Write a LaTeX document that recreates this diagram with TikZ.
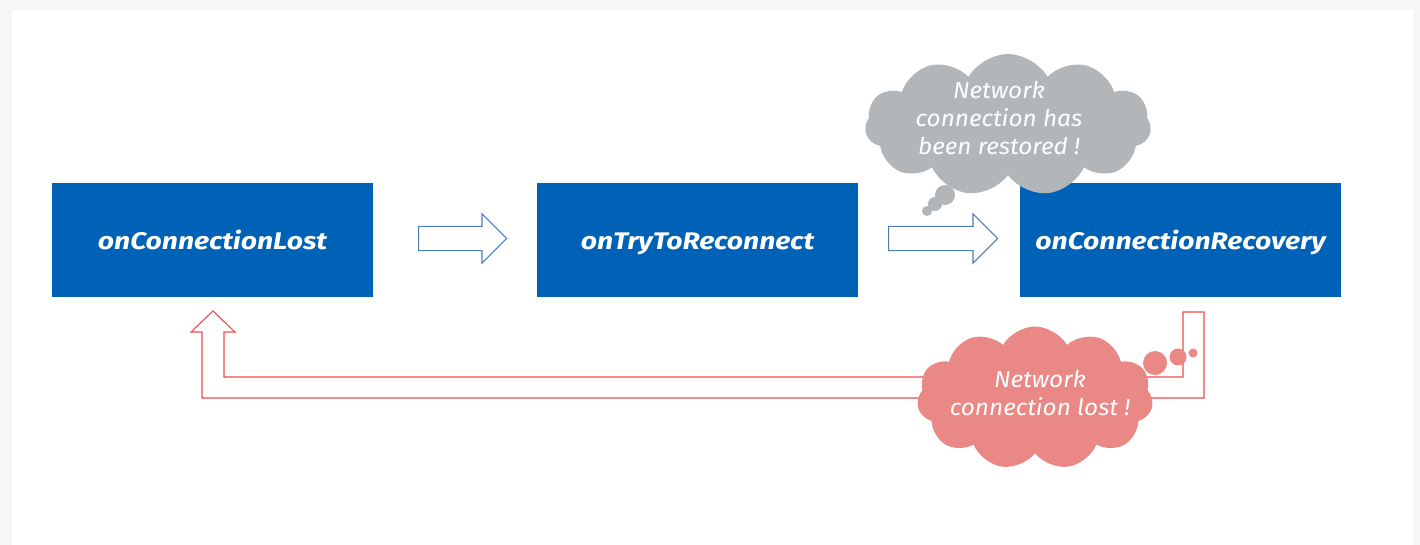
\documentclass[tikz,border=0pt]{standalone}
\usepackage{fontspec}
\setmainfont{Fira Sans}
\newfontfamily\widefont[FakeStretch=1.18]{Fira Sans}
\newfontfamily\cloudfont[FakeStretch=1.06]{Fira Sans}
\usetikzlibrary{shapes.symbols,shapes.arrows}
\definecolor{boxblue}{HTML}{0062B7}
\definecolor{arrowblue}{HTML}{4A7DBA}
\definecolor{lostred}{HTML}{F24B4B}
\definecolor{cloudred}{HTML}{E98885}
\definecolor{cloudgray}{HTML}{B2B6B9}
\definecolor{pagegray}{HTML}{F5F6F8}
\tikzset{
  statebox/.style={fill=boxblue, minimum width=321pt, minimum height=114pt, inner sep=0pt,
    text=white, text height=22pt, text depth=2pt,
    font=\widefont\fontsize{24}{30}\selectfont\bfseries\itshape},
  blockarrow/.style={single arrow, draw=arrowblue, line width=1.2pt, fill=white,
    inner xsep=0pt, inner ysep=11.5pt, single arrow head extend=12.5pt,
    single arrow tip angle=90, anchor=tail},
  thought/.style={cloud, cloud puffs=11, cloud puff arc=120, aspect=2.2, inner sep=0pt},
  thoughttext/.style={text=white, align=center, font=\cloudfont\fontsize{23}{28}\selectfont\itshape},
}
\begin{document}
\begin{tikzpicture}[x=1pt,y=-1pt]
\useasboundingbox (0,0) rectangle (1420,545);
\fill[pagegray] (0,0) rectangle (1420,545);
\fill[white] (12,10) rectangle (1413,545);
% boxes
\node[statebox] (lost) at (212.5,240) {onConnectionLost};
\node[statebox] (try) at (697.5,240) {onTryToReconnect};
\node[statebox] (rec) at (1180.5,240) {onConnectionRecovery};
% block arrows
\node[blockarrow, minimum height=88pt] (a1) at (418,238.5) {};
\node[blockarrow, minimum height=109pt] (a2) at (888,238.5) {};
% red return arrow
\draw[lostred, line width=1.1pt, line join=miter]
  (213,311) coordinate (tip) -- (235,332) -- (224,332) -- (224,377) -- (1183,377) -- (1183,312)
  -- (1204,312) -- (1204,398) -- (202,398) -- (202,332) -- (191,332) -- cycle;
% gray thought cloud
\fill[cloudgray] (945,195) circle (10) (935,204) circle (7) (927,211) circle (5);
\node[thought, fill=cloudgray, minimum width=286pt, minimum height=142pt] (restored) at (1008,125) {};
\node[thoughttext] (restoredtxt) at (999,118) {Network\\connection has\\been restored !};
% red thought cloud
\fill[cloudred] (1155,363) circle (12) (1178,357) circle (8.5) (1193,353) circle (4.5);
\node[thought, fill=cloudred, minimum width=236pt, minimum height=143pt] (lostmsg) at (1035,398) {};
\node[thoughttext] (lostmsgtxt) at (1040,393) {Network\\connection lost !};
\end{tikzpicture}
\end{document}
